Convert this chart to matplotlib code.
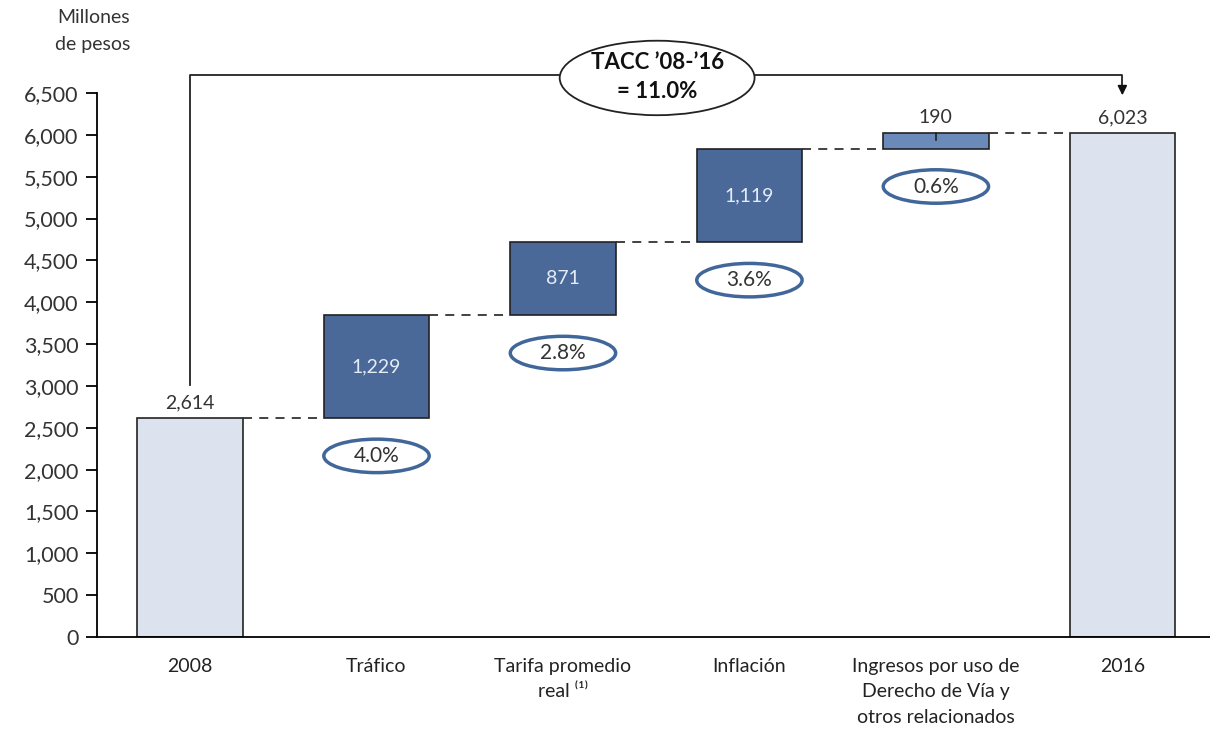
import numpy as np
import matplotlib.pyplot as plt
from matplotlib.patches import Ellipse

plt.rcParams['font.family'] = ['Lato', 'DejaVu Sans']

categories = ['2008', 'Tráfico', 'Tarifa promedio\nreal \u207d\u00b9\u207e', 'Inflación',
              'Ingresos por uso de\nDerecho de Vía y\notros relacionados', '2016']
start_total = 2614
increments = [1229, 871, 1119, 190]
end_total = 6023
growth = ['4.0%', '2.8%', '3.6%', '0.6%']
tacc_label = "TACC \u201908-\u201916\n= 11.0%"

total_color = '#DCE3EE'
inc_colors = ['#4A6898', '#4A6898', '#4A6898', '#6A8ABA']
ring_color = '#41679A'
w = 0.565

fig = plt.figure(figsize=(12.1, 7.29), dpi=100)
ax = fig.add_axes([0.080, 0.1262, 0.92, 0.7462])

# totals
ax.bar(0, start_total, width=w, color=total_color, edgecolor='#222222', linewidth=1.2)
ax.bar(5, end_total, width=w, color=total_color, edgecolor='#222222', linewidth=1.2)

bottoms = start_total + np.concatenate([[0], np.cumsum(increments)[:-1]])
for i, (b, v) in enumerate(zip(bottoms, increments)):
    x = i + 1
    ax.bar(x, v, bottom=b, width=w, color=inc_colors[i], edgecolor='#222222', linewidth=1.2)
    if v > 500:
        ax.text(x, b + v / 2, f'{v:,}', ha='center', va='center', color='#E4ECF7', fontsize=14)
    else:
        ax.text(x, b + v + 80, f'{v:,}', ha='center', va='bottom', color='#333333', fontsize=14)
        ax.plot([x, x], [b + v, b + v - 80], color='#222222', lw=1.2)
    # growth ring
    ax.add_patch(Ellipse((x, b - 450), w, 400, facecolor='white', edgecolor=ring_color,
                         linewidth=2.5, clip_on=False))
    ax.text(x, b - 450, growth[i], ha='center', va='center', color='#333333', fontsize=15)

# connectors
levels = list(bottoms) + [bottoms[-1] + increments[-1]]
for i, lv in enumerate(levels):
    ax.plot([i + w / 2, i + 1 - w / 2], [lv, lv], color='#333333', lw=1.3,
            linestyle=(0, (5, 4)))

ax.text(0, start_total + 80, f'{start_total:,}', ha='center', va='bottom', color='#333333', fontsize=14)
ax.text(5, end_total + 80, f'{end_total:,}', ha='center', va='bottom', color='#333333', fontsize=14)

# TACC bracket
ax.plot([0, 0, 5, 5], [3010, 6715, 6715, 6560], color='#222222', lw=1.3, clip_on=False)
ax.annotate('', xy=(5, 6440), xytext=(5, 6600),
            arrowprops=dict(arrowstyle='-|>', color='#111111', lw=1.2, mutation_scale=14),
            annotation_clip=False)
ax.add_patch(Ellipse((2.505, 6680), 1.045, 890, facecolor='white', edgecolor='#222222',
                     linewidth=1.3, clip_on=False, zorder=5))
ax.text(2.505, 6690, tacc_label, ha='center', va='center', fontsize=16, fontweight='bold',
        color='#111111', zorder=6, linespacing=1.5)

ax.set_xlim(-0.5, 5.47)
ax.set_ylim(0, 6500)
ax.set_yticks(np.arange(0, 6501, 500))
ax.set_yticklabels([f'{t:,}' for t in range(0, 6501, 500)], fontsize=15.5, color='#333333')
ax.set_xticks(range(6))
ax.set_xticklabels(categories, fontsize=14, color='#222222', va='top', linespacing=1.6)
ax.tick_params(axis='x', length=0, pad=15)
ax.tick_params(axis='y', length=8, width=1.3, direction='out', pad=5)
for s in ['top', 'right']:
    ax.spines[s].set_visible(False)
ax.spines['left'].set_linewidth(1.3)
ax.spines['bottom'].set_linewidth(1.3)
ax.spines['bottom'].set_bounds(-0.5, 5.47)

fig.text(0.077, 0.988, 'Millones\nde pesos', ha='center', va='top', fontsize=14,
         color='#333333', linespacing=1.75)

fig.savefig('out.png', dpi=100)
